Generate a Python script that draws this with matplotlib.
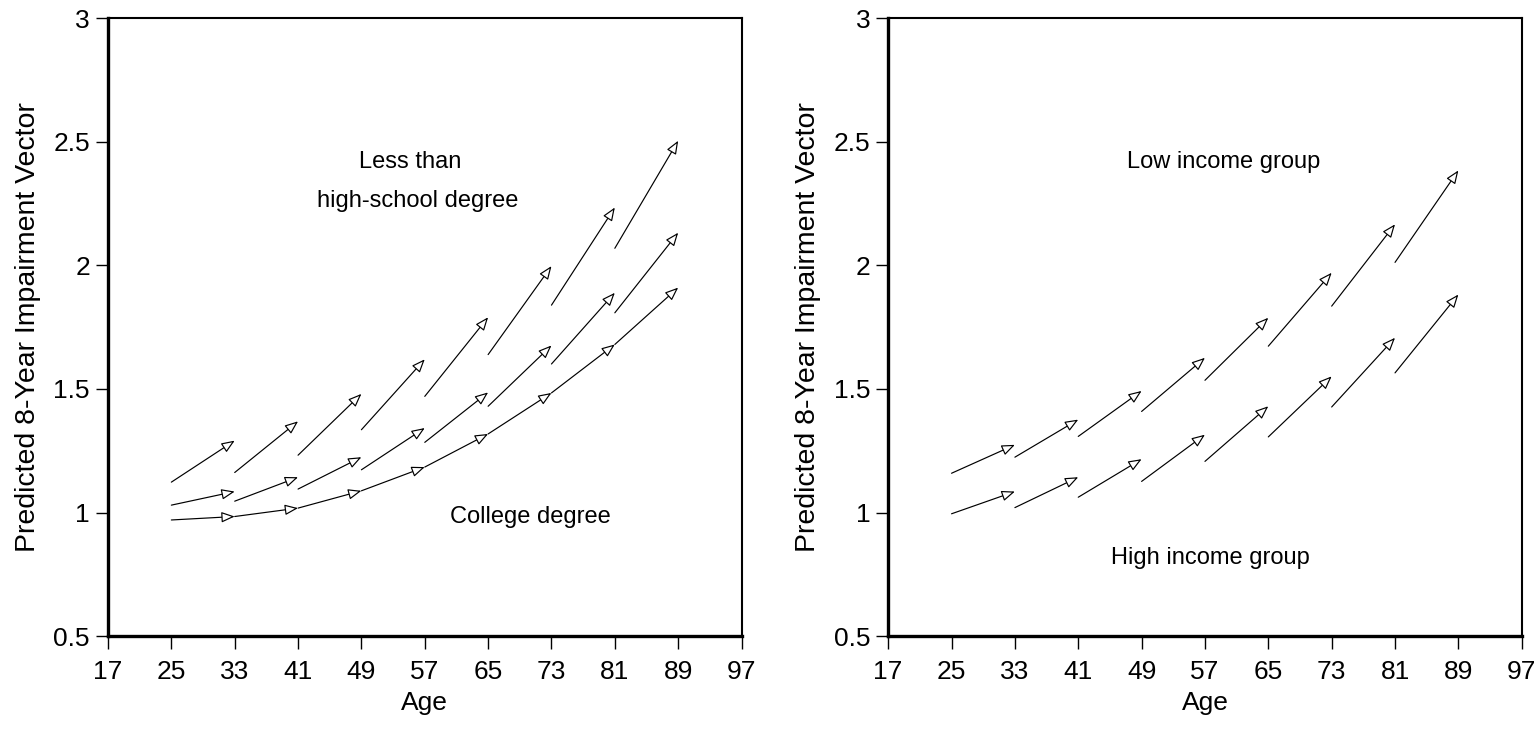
import matplotlib
matplotlib.use("Agg")
import matplotlib.pyplot as plt

plt.rcParams["font.family"] = ["Liberation Sans", "DejaVu Sans"]

# arrows run from age a to a + 8
ages = [25, 33, 41, 49, 57, 65, 73, 81]
step = 8

# education panel
less_hs_start = [1.123, 1.162, 1.232, 1.335, 1.470, 1.639, 1.839, 2.069]
less_hs_end = [1.291, 1.369, 1.480, 1.620, 1.790, 1.997, 2.234, 2.504]
mid_start = [1.030, 1.046, 1.095, 1.173, 1.284, 1.430, 1.601, 1.808]
mid_end = [1.085, 1.143, 1.224, 1.342, 1.486, 1.676, 1.889, 2.132]
college_start = [0.970, 0.984, 1.018, 1.088, 1.184, 1.318, 1.484, 1.680]
college_end = [0.984, 1.018, 1.088, 1.184, 1.318, 1.484, 1.680, 1.910]

# income panel
low_start = [1.159, 1.224, 1.308, 1.409, 1.535, 1.673, 1.835, 2.012]
low_end = [1.274, 1.376, 1.492, 1.626, 1.788, 1.970, 2.166, 2.384]
high_start = [0.995, 1.020, 1.062, 1.126, 1.207, 1.306, 1.427, 1.565]
high_end = [1.085, 1.143, 1.216, 1.315, 1.430, 1.551, 1.707, 1.882]

xticks = [17, 25, 33, 41, 49, 57, 65, 73, 81, 89, 97]
yticks = [0.5, 1, 1.5, 2, 2.5, 3]
ytick_labels = ["0.5", "1", "1.5", "2", "2.5", "3"]


def draw_vectors(ax, starts, ends):
    for a, y0, y1 in zip(ages, starts, ends):
        ax.annotate("", xy=(a + step, y1), xytext=(a, y0),
                    arrowprops=dict(arrowstyle="-|>,head_length=0.8,head_width=0.32",
                                    fc="white", ec="black", lw=0.85,
                                    shrinkA=0, shrinkB=0, mutation_scale=10))


def style_axes(ax):
    ax.set_xlim(17, 97)
    ax.set_ylim(0.5, 3)
    ax.set_xticks(xticks)
    ax.set_yticks(yticks)
    ax.set_yticklabels(ytick_labels)
    ax.tick_params(direction="out", length=9, width=1, labelsize=19)
    ax.tick_params(axis="x", pad=8)
    ax.tick_params(axis="y", pad=4)
    ax.spines["left"].set_linewidth(2.4)
    ax.spines["bottom"].set_linewidth(2.4)
    ax.spines["top"].set_linewidth(1.5)
    ax.spines["right"].set_linewidth(1.5)
    ax.set_xlabel("Age", fontsize=19, labelpad=5)
    ax.set_ylabel("Predicted 8-Year Impairment Vector", fontsize=20.5, labelpad=9)


fig = plt.figure(figsize=(15.34, 7.38), dpi=100)
ax1 = fig.add_axes([0.0704, 0.138, 0.413, 0.8374])
ax2 = fig.add_axes([0.579, 0.138, 0.413, 0.8374])

draw_vectors(ax1, less_hs_start, less_hs_end)
draw_vectors(ax1, mid_start, mid_end)
draw_vectors(ax1, college_start, college_end)
ax1.text(55.2, 2.42, "Less than", ha="center", va="center", fontsize=17)
ax1.text(56.1, 2.26, "high-school degree", ha="center", va="center", fontsize=17)
ax1.text(70.3, 0.98, "College degree", ha="center", va="center", fontsize=17)
style_axes(ax1)

draw_vectors(ax2, low_start, low_end)
draw_vectors(ax2, high_start, high_end)
ax2.text(59.3, 2.42, "Low income group", ha="center", va="center", fontsize=17)
ax2.text(57.7, 0.817, "High income group", ha="center", va="center", fontsize=17)
style_axes(ax2)

fig.savefig("out.png", dpi=100)
